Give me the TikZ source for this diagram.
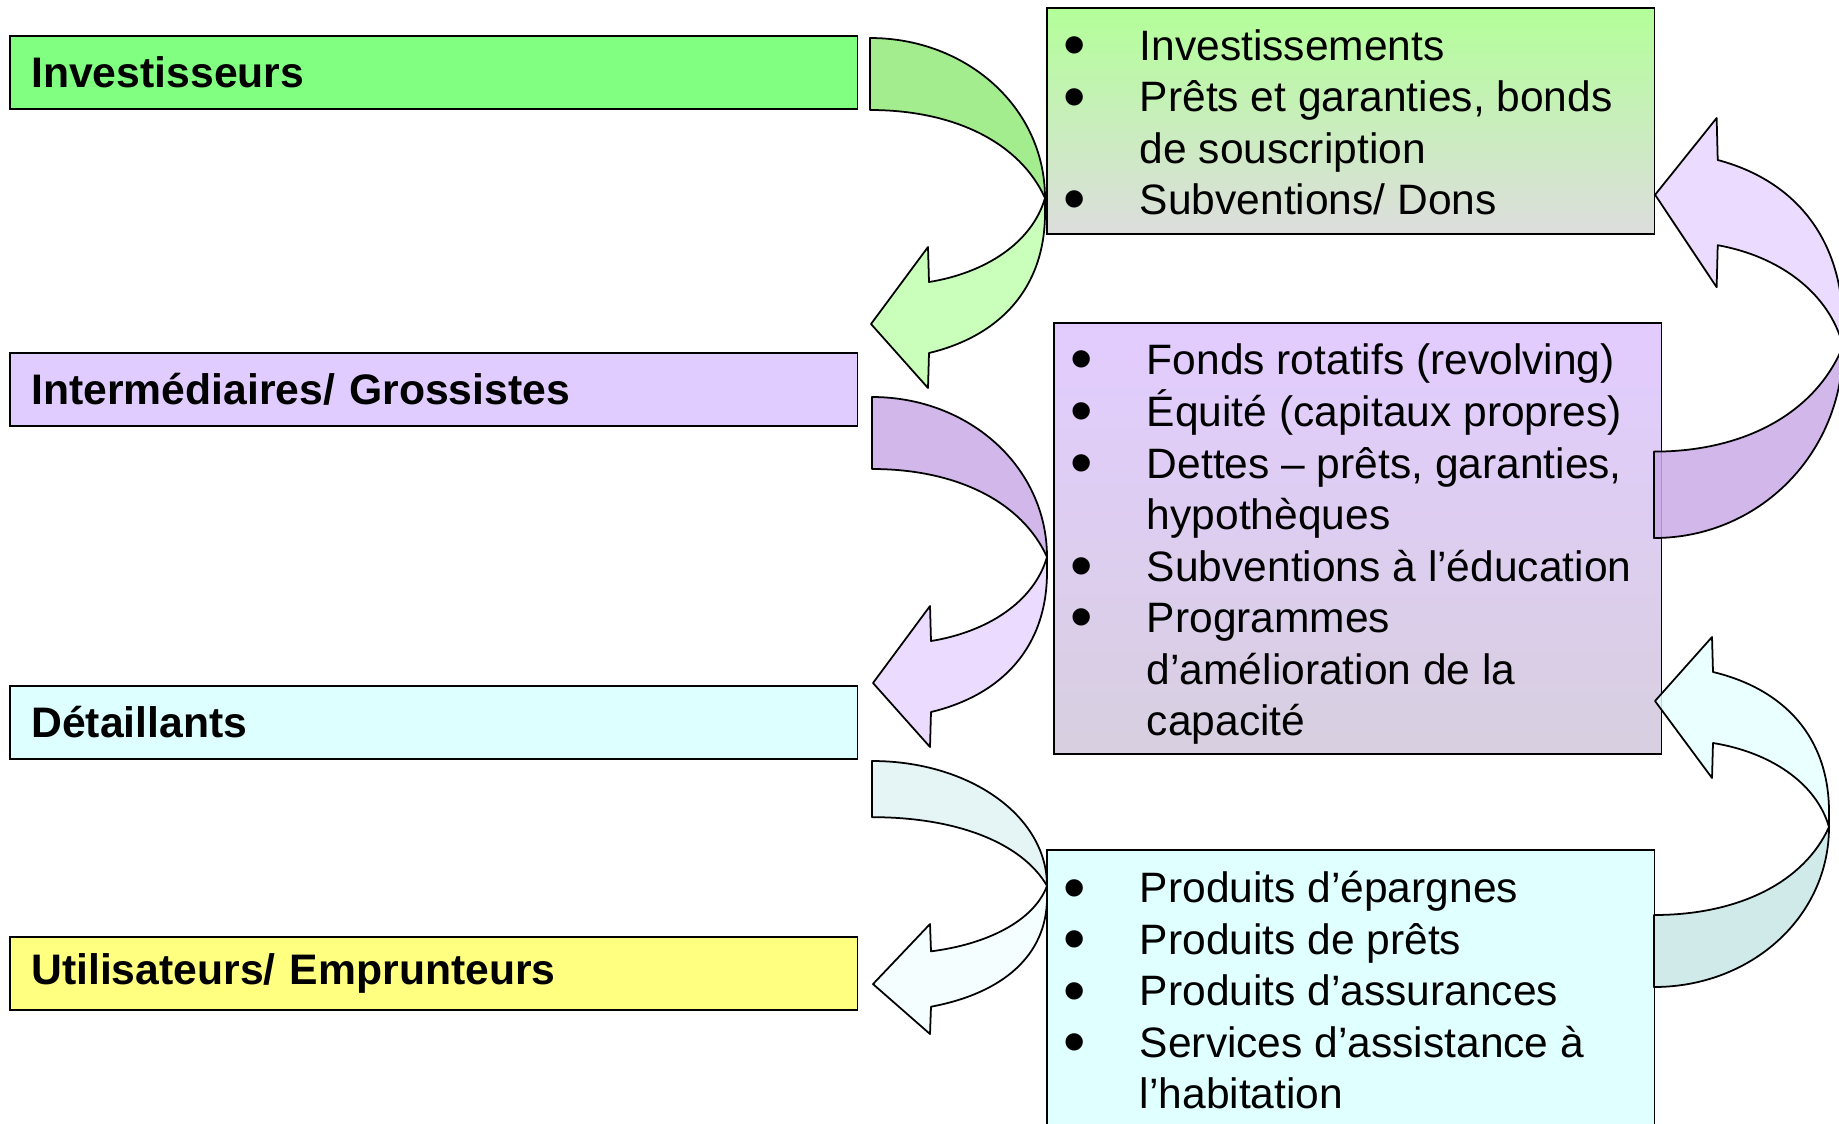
\documentclass[tikz,border=0pt]{standalone}
\usepackage{fontspec}
\usepackage{graphicx}
\setmainfont{Liberation Sans}

\definecolor{vertInv}{HTML}{80FF80}
\definecolor{violetInt}{HTML}{E0CCFF}
\definecolor{cyanDet}{HTML}{DDFFFF}
\definecolor{jauneUti}{HTML}{FFFF80}
\definecolor{vertHaut}{HTML}{B3FF99}
\definecolor{grisBas}{HTML}{DDDDDD}
\definecolor{violetHaut}{HTML}{E2CCFF}
\definecolor{violetBas}{HTML}{D8CFE0}
\definecolor{cyanBoite}{HTML}{E0FFFF}
\definecolor{vertSombre}{HTML}{94EA7A}
\definecolor{vertClair}{HTML}{C0FFAE}
\definecolor{violetSombre}{HTML}{C9AAE6}
\definecolor{violetClair}{HTML}{E8D6FF}
\definecolor{cyanSombre}{HTML}{E0F3F3}
\definecolor{cyanClair}{HTML}{F3FEFE}
\definecolor{cyanSombreB}{HTML}{C8E6E6}
\definecolor{cyanClairB}{HTML}{E6FFFF}

\tikzset{
  acteur/.style={draw, line width=0.9pt, anchor=north west,
    minimum width=16.96cm, minimum height=1.46cm,
    text width=16.1cm, inner xsep=0.43cm, align=left,
    font=\fontsize{24.3}{29}\selectfont\bfseries},
  liste/.style={draw, line width=0.9pt, anchor=north west, minimum width=12.16cm},
  puces/.style={anchor=north west, inner sep=0pt,
    font=\fontsize{24.2}{29.3}\selectfont},
  fleche/.style={draw=black, line width=1pt, line join=round, fill opacity=0.85}
}

% puce ronde
\newcommand{\pu}{\smash{\raisebox{-3.5pt}{\scalebox{1.5}{\textbullet}}}}

% fleche courbe : position, xscale, yscale, teinte sombre, teinte claire
\newcommand{\courbe}[5]{%
  \begin{scope}[shift={#1}, xscale=#2, yscale=#3]
    \draw[fleche, fill=#4] (0,0) .. controls (97,0) and (175,70) .. (175,160)
      .. controls (150,105) and (85,72) .. (0,72) -- cycle;
    \draw[fleche, fill=#5] (175,160) .. controls (162,205) and (115,235) .. (59,244)
      -- (58,209) -- (1,286) -- (58,350) -- (59,315)
      .. controls (130,298) and (175,250) .. (175,175) -- cycle;
  \end{scope}}

\begin{document}
\begin{tikzpicture}[x=0.02cm, y=-0.02cm]
\useasboundingbox (0,0) rectangle (1839,1123);

% acteurs
\node[acteur, fill=vertInv] (inv) at (9,35) {Investisseurs};
\node[acteur, fill=violetInt] (int) at (9,352) {Intermédiaires/ Grossistes};
\node[acteur, fill=cyanDet] (det) at (9,685) {Détaillants};
\node[acteur, fill=jauneUti] (uti) at (9,936) {Utilisateurs/ Emprunteurs};

% produits
\node[liste, minimum height=4.52cm, top color=vertHaut, bottom color=grisBas] (fin) at (1046,7) {};
\node[puces] (finT) at ([xshift=0.34cm, yshift=-0.34cm]fin.north west) {%
  \begin{tabular}{@{}p{1.53cm}@{}l@{}}
  \pu & Investissements\\
  \pu & Prêts et garanties, bonds\\
      & de souscription\\
  \pu & Subventions/ Dons
  \end{tabular}};

\node[liste, minimum height=8.62cm, top color=violetHaut, bottom color=violetBas] (gros) at (1053,322) {};
\node[puces] (grosT) at ([xshift=0.34cm, yshift=-0.32cm]gros.north west) {%
  \begin{tabular}{@{}p{1.53cm}@{}l@{}}
  \pu & Fonds rotatifs (revolving)\\
  \pu & Équité (capitaux propres)\\
  \pu & Dettes – prêts, garanties,\\
      & hypothèques\\
  \pu & Subventions à l’éducation\\
  \pu & Programmes\\
      & d’amélioration de la\\
      & capacité
  \end{tabular}};

\node[liste, minimum height=5.8cm, fill=cyanBoite] (det2) at (1046,849) {};
\node[puces] (det2T) at ([xshift=0.34cm, yshift=-0.35cm]det2.north west) {%
  \begin{tabular}{@{}p{1.53cm}@{}l@{}}
  \pu & Produits d’épargnes\\
  \pu & Produits de prêts\\
  \pu & Produits d’assurances\\
  \pu & Services d’assistance à\\
      & l’habitation
  \end{tabular}};

% fleches de gauche
\courbe{(870,38)}{1}{1}{vertSombre}{vertClair}
\courbe{(872,397)}{1}{1}{violetSombre}{violetClair}
\courbe{(872,761)}{1}{0.78}{cyanSombre}{cyanClair}

% fleches de droite
\courbe{(1654,538)}{1.08}{-1.2}{violetSombre}{violetClair}
\courbe{(1654,987)}{1}{-1}{cyanSombreB}{cyanClairB}
\end{tikzpicture}
\end{document}
